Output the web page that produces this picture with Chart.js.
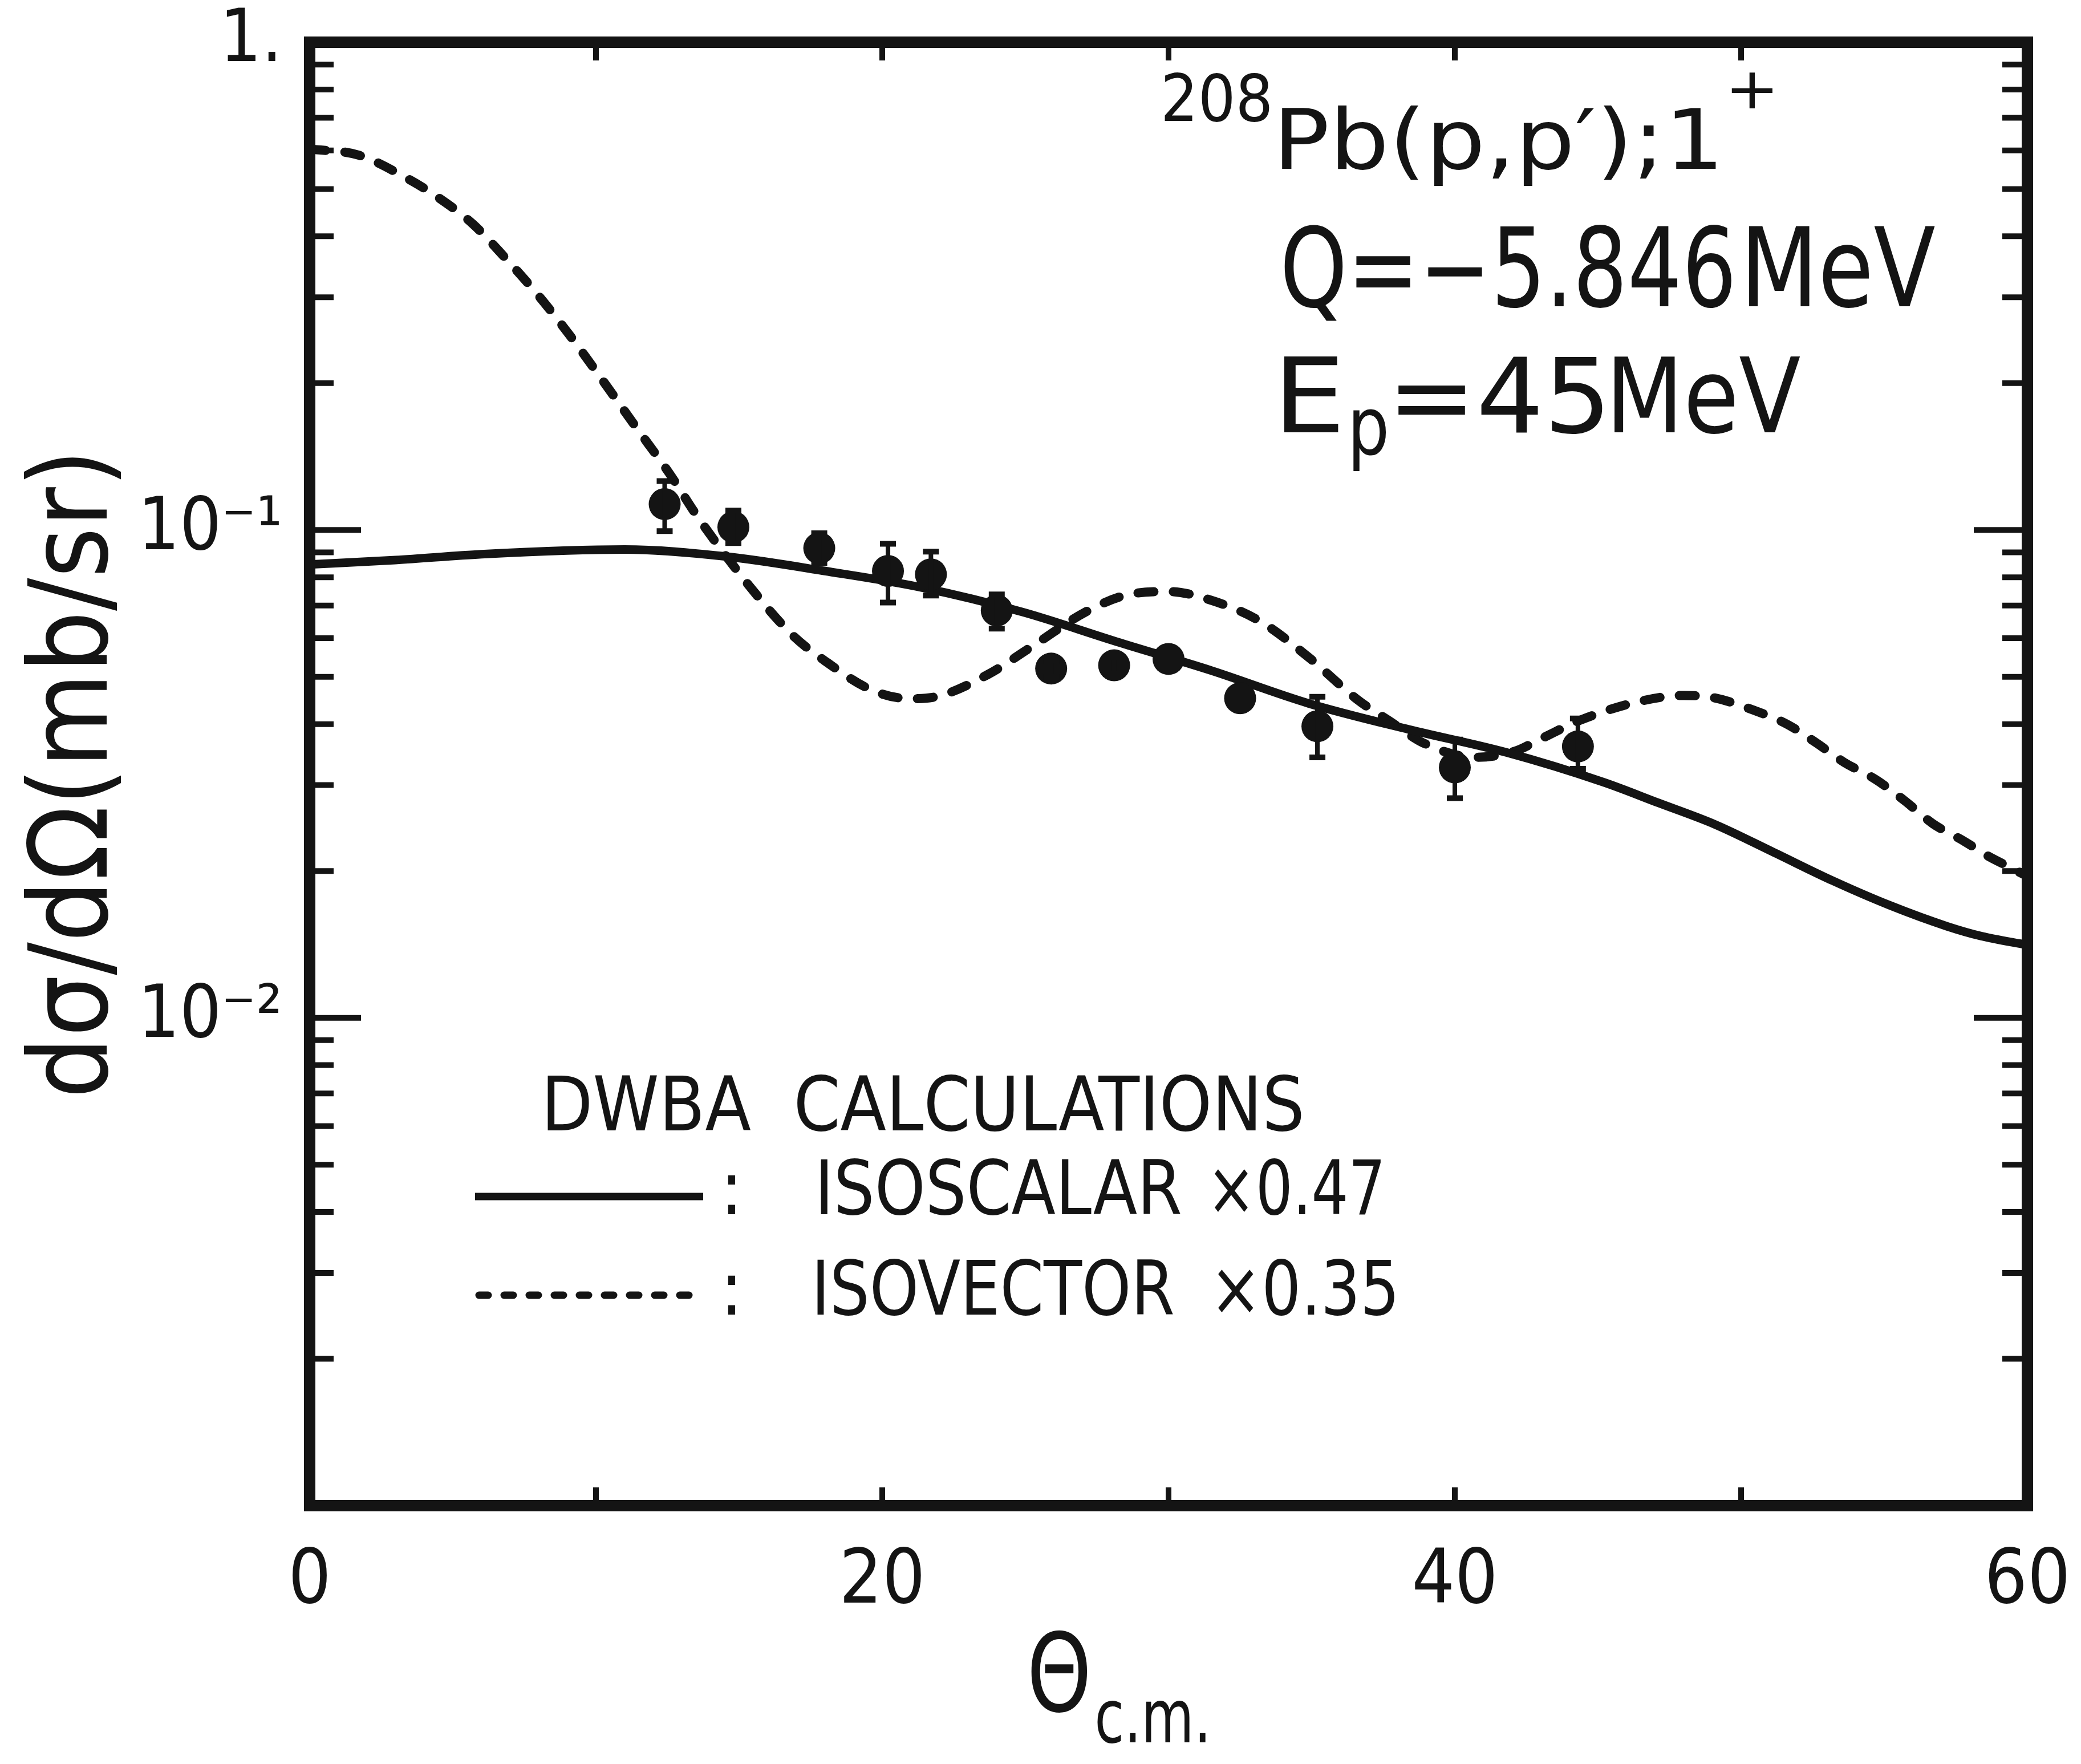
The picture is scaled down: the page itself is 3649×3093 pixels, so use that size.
<!DOCTYPE html>
<html>
<head>
<meta charset="utf-8">
<title>208Pb(p,p') 1+ DWBA</title>
<script src="https://cdn.jsdelivr.net/npm/chart.js@4.4.1/dist/chart.umd.min.js"></script>
<style>
  html, body { margin: 0; padding: 0; background: #fff; }
  #wrap { width: 3649px; height: 3093px; }
</style>
</head>
<body>
<div id="wrap"><canvas id="xsecChart"></canvas></div>
<script>
// measured points: theta c.m. (deg) and dsigma/dOmega (mb/sr) with error bar ends
const thetaData = [12.4, 14.8, 17.8, 20.2, 21.7, 24.0, 25.9, 28.1, 30.0, 32.5, 35.2, 40.0, 44.3];
const sigmaData = [0.113, 0.1014, 0.0918, 0.0824, 0.0811, 0.0684, 0.0520, 0.0528, 0.0544, 0.0452, 0.0396, 0.0326, 0.0360];
const sigmaLow  = [0.0995, 0.094, 0.0855, 0.0710, 0.0734, 0.0628, 0.0500, 0.0508, 0.0524, 0.0435, 0.0342, 0.0282, 0.0324];
const sigmaHigh = [0.126, 0.1096, 0.0985, 0.0937, 0.0903, 0.0738, 0.0540, 0.0548, 0.0564, 0.0470, 0.0455, 0.0372, 0.0411];

// DWBA isoscalar x0.47 (solid)
const thetaScalar = [0, 3, 6, 9, 11, 14.5, 18, 21.4, 24.9, 28.2, 31.5, 34.9, 38.4, 41.8, 45.2, 47.1, 49.1, 51.1, 53.2, 55.2, 57.2, 58.4, 60];
const isoscalar   = [0.0850, 0.0868, 0.0892, 0.0908, 0.0912, 0.0883, 0.0824, 0.0762, 0.0679, 0.0590, 0.0515, 0.0441, 0.0390, 0.0350, 0.0304, 0.0276, 0.0249, 0.0219, 0.0191, 0.0170, 0.0154, 0.0147, 0.0141];

// DWBA isovector x0.35 (dashed)
const thetaVector = [0, 1.7, 3.4, 4.5, 5.7, 6.8, 8.0, 9.1, 10.25, 11.4, 12.55, 13.6, 15.35, 16.85, 18.0, 19.7, 21.0, 22.0, 23.7, 25.4,
                     27.1, 28.5, 30.0, 31.45, 33.2, 34.9, 36.6, 37.8, 38.9, 40.7, 42.1, 43.0, 44.4, 46.5, 48.0, 49.05, 50.4, 51.6, 52.6, 53.6,
                     54.7, 55.7, 56.7, 57.8, 58.6, 59.5, 60];
const isovector   = [0.604, 0.587, 0.526, 0.48, 0.424, 0.363, 0.302, 0.25, 0.202, 0.1625, 0.131, 0.1054, 0.0769, 0.061, 0.0539, 0.0468, 0.0451, 0.0457, 0.0506, 0.0586,
                     0.0679, 0.0735, 0.0748, 0.0719, 0.065, 0.0548, 0.0449, 0.0403, 0.0366, 0.0342, 0.0352, 0.0373, 0.0408, 0.0446, 0.0458, 0.0453, 0.0428, 0.04, 0.0367, 0.0334,
                     0.0308, 0.0279, 0.025, 0.023, 0.0215, 0.0202, 0.0195];

// axes
const xLabelValues = [0, 20, 40, 60];
const xTickValues  = [10, 20, 30, 40, 50];
const yLabelValues = [1, 0.1, 0.01];
const yLabelTexts  = ['1.', '10\u207B\u00B9', '10\u207B\u00B2'];
const yDecades     = [0.001, 0.01, 0.1];
const yMinorSteps  = [2, 3, 4, 5, 6, 7, 8, 9];

const INK = '#141414';
const FONT = '"DejaVu Sans Condensed", "Liberation Sans Narrow", "DejaVu Sans", sans-serif';

const pairs = (xs, ys) => xs.map((x, i) => ({x: x, y: ys[i]}));

// draw text so that its ink spans a given width
function fitText(ctx, str, left, base, size, inkWidth) {
    ctx.font = size + 'px ' + FONT;
    const m = ctx.measureText(str);
    const ink = m.actualBoundingBoxLeft + m.actualBoundingBoxRight;
    const k = inkWidth ? inkWidth / ink : 1;
    ctx.save();
    ctx.translate(left + m.actualBoundingBoxLeft * k, base);
    ctx.scale(k, 1);
    ctx.textAlign = 'left';
    ctx.textBaseline = 'alphabetic';
    ctx.fillText(str, 0, 0);
    ctx.restore();
}

// frame with inward ticks on all four sides
const frameTicks = {
    id: 'frameTicks',
    afterDraw(chart) {
        const {ctx, chartArea: a, scales: {x, y}} = chart;
        ctx.save();
        ctx.strokeStyle = INK;
        ctx.lineCap = 'butt';
        ctx.lineWidth = 10;
        const hTick = (px, py, len) => { ctx.beginPath(); ctx.moveTo(px, py); ctx.lineTo(px + len, py); ctx.stroke(); };
        const vTick = (px, py, len) => { ctx.beginPath(); ctx.moveTo(px, py); ctx.lineTo(px, py + len); ctx.stroke(); };
        yDecades.forEach(d => {
            yMinorSteps.forEach(s => {
                const py = y.getPixelForValue(d * s);
                hTick(a.left, py, 42);
                hTick(a.right, py, -44);
            });
            if (d > 0.001) {
                const py = y.getPixelForValue(d);
                hTick(a.left, py, 90);
                hTick(a.right, py, -94);
            }
        });
        xTickValues.forEach(v => {
            const px = x.getPixelForValue(v);
            vTick(px, a.top, 32);
            vTick(px, a.bottom, -32);
        });
        ctx.lineWidth = 20;
        ctx.lineJoin = 'miter';
        ctx.strokeRect(a.left, a.top, a.right - a.left, a.bottom - a.top);
        ctx.restore();
    }
};

// vertical error bars with caps
const errorBars = {
    id: 'errorBars',
    afterDatasetsDraw(chart) {
        const {ctx, scales: {x, y}} = chart;
        ctx.save();
        ctx.strokeStyle = INK;
        ctx.lineCap = 'butt';
        thetaData.forEach((t, i) => {
            const px = x.getPixelForValue(t);
            const top = y.getPixelForValue(sigmaHigh[i]);
            const bot = y.getPixelForValue(sigmaLow[i]);
            ctx.lineWidth = 8;
            ctx.beginPath(); ctx.moveTo(px, top); ctx.lineTo(px, bot); ctx.stroke();
            ctx.lineWidth = 10;
            ctx.beginPath();
            ctx.moveTo(px - 14, top); ctx.lineTo(px + 14, top);
            ctx.moveTo(px - 14, bot); ctx.lineTo(px + 14, bot);
            ctx.stroke();
        });
        ctx.restore();
    }
};

// reaction label, legend and x title
const annotations = {
    id: 'annotations',
    afterDraw(chart) {
        const ctx = chart.ctx;
        ctx.save();
        ctx.fillStyle = INK;

        fitText(ctx, '208', 2042, 212, 114, 184);
        fitText(ctx, 'Pb(p,p\u2032);1', 2247, 296, 146, 762);
        fitText(ctx, '+', 3036, 190, 100, 72);

        fitText(ctx, 'Q=\u22125.846', 2252, 537, 193, 784);
        fitText(ctx, 'MeV', 3067, 537, 193, 326);

        fitText(ctx, 'E', 2252, 758, 181, 95);
        fitText(ctx, 'p', 2373, 797, 140, 58);
        fitText(ctx, '=45', 2452, 758, 181, 358);
        fitText(ctx, 'MeV', 2831, 758, 181, 326);

        // legend
        const [scalar, vector] = chart.data.datasets.slice(1);
        fitText(ctx, 'DWBA  CALCULATIONS', 960, 1982, 131, 1322);
        ctx.strokeStyle = INK;
        ctx.lineWidth = scalar.borderWidth - 2;
        ctx.beginPath(); ctx.moveTo(833, 2098); ctx.lineTo(1233, 2098); ctx.stroke();
        fitText(ctx, ':', 1276, 2129, 131, 0);
        fitText(ctx, 'ISOSCALAR', 1439, 2129, 131, 631);
        fitText(ctx, '\u00D70.47', 2130, 2129, 131, 291);

        ctx.lineWidth = vector.borderWidth - 3;
        ctx.lineCap = 'round';
        ctx.setLineDash([16, 28]);
        ctx.beginPath(); ctx.moveTo(840, 2271); ctx.lineTo(1233, 2271); ctx.stroke();
        ctx.setLineDash([]);
        fitText(ctx, ':', 1276, 2305, 131, 0);
        fitText(ctx, 'ISOVECTOR', 1433, 2305, 131, 624);
        fitText(ctx, '\u00D70.35', 2136, 2305, 131, 309);

        // x axis title with subscript
        fitText(ctx, '\u0398', 1808, 3000, 190, 98);
        fitText(ctx, 'c.m.', 1924, 3055, 130, 190);
        ctx.restore();
    }
};

new Chart(document.getElementById('xsecChart'), {
    data: {
        datasets: [
            {
                type: 'scatter',
                label: 'data',
                data: pairs(thetaData, sigmaData),
                backgroundColor: INK,
                borderWidth: 0,
                pointRadius: 28,
                pointHoverRadius: 28
            },
            {
                type: 'line',
                label: 'ISOSCALAR \u00D70.47',
                data: pairs(thetaScalar, isoscalar),
                borderColor: INK,
                borderWidth: 15,
                pointRadius: 0,
                cubicInterpolationMode: 'monotone',
                fill: false
            },
            {
                type: 'line',
                label: 'ISOVECTOR \u00D70.35',
                data: pairs(thetaVector, isovector),
                borderColor: INK,
                borderWidth: 16,
                borderDash: [28, 34],
                borderCapStyle: 'round',
                pointRadius: 0,
                cubicInterpolationMode: 'monotone',
                fill: false
            }
        ]
    },
    options: {
        responsive: true,
        maintainAspectRatio: false,
        animation: false,
        devicePixelRatio: 1,
        layout: { padding: { top: 74, right: 94, bottom: 0, left: 0 } },
        plugins: { legend: { display: false }, tooltip: { enabled: false } },
        scales: {
            x: {
                type: 'linear',
                min: 0,
                max: 60,
                grid: { display: false, drawTicks: false },
                border: { display: false },
                afterBuildTicks: s => { s.ticks = xLabelValues.map(v => ({value: v})); },
                afterFit: s => { s.height = 453; s.paddingLeft = 0; s.paddingRight = 0; },
                ticks: {
                    color: INK,
                    padding: 57,
                    autoSkip: false,
                    maxRotation: 0,
                    font: { family: FONT, size: 132 }
                }
            },
            y: {
                type: 'logarithmic',
                min: 0.001,
                max: 1,
                grid: { display: false, drawTicks: false },
                border: { display: false },
                afterBuildTicks: s => { s.ticks = yLabelValues.map(v => ({value: v})); },
                afterFit: s => { s.width = 543; s.paddingTop = 0; s.paddingBottom = 0; },
                title: {
                    display: true,
                    text: 'd\u03C3/d\u03A9(mb/sr)',
                    color: INK,
                    font: { family: FONT, size: 190 },
                    padding: { top: 24, bottom: 0 }
                },
                ticks: {
                    color: INK,
                    padding: 48,
                    autoSkip: false,
                    font: { family: FONT, size: 128 },
                    callback: v => {
                        const i = yLabelValues.indexOf(v);
                        return i >= 0 ? yLabelTexts[i] : '';
                    }
                }
            }
        }
    },
    plugins: [errorBars, frameTicks, annotations]
});
</script>
</body>
</html>
